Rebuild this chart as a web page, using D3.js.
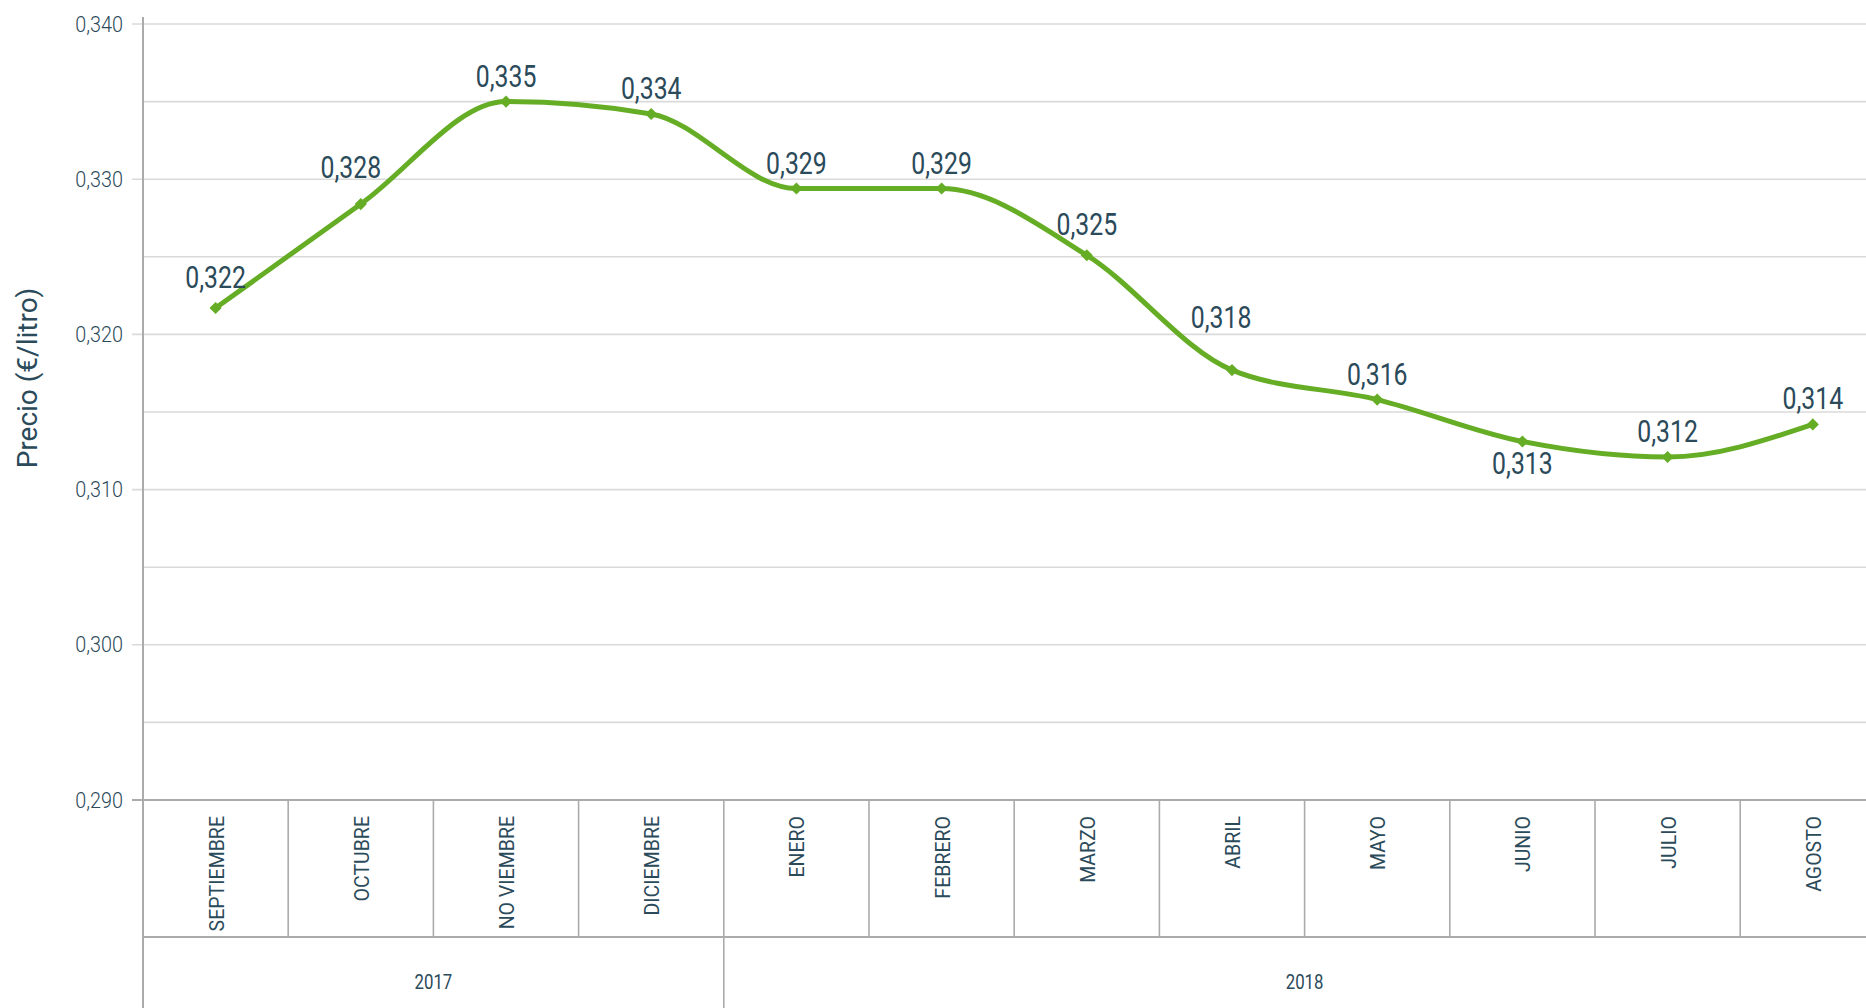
<!DOCTYPE html>
<html>
<head>
<meta charset="utf-8">
<script src="https://cdn.jsdelivr.net/npm/d3@7"></script>
<style>
  html, body { margin: 0; padding: 0; background: #fff; overflow: hidden; }
  svg { display: block; }
  text { font-family: Roboto, "Open Sans", sans-serif; }
</style>
</head>
<body>
<svg id="chart" width="1866" height="1008"></svg>
<script>
// ---- data ----
const months = ["SEPTIEMBRE","OCTUBRE","NO VIEMBRE","DICIEMBRE","ENERO","FEBRERO","MARZO","ABRIL","MAYO","JUNIO","JULIO","AGOSTO"];
const monthYear = ["2017","2017","2017","2017","2018","2018","2018","2018","2018","2018","2018","2018"];
const years = ["2017","2018"];
const prices = [0.3217, 0.3284, 0.3350, 0.3342, 0.3294, 0.3294, 0.3251, 0.3177, 0.3158, 0.3131, 0.3121, 0.3142];
const labelSide = ["above-high","above-left","above","above","above","above","above-high","high-left","above","below","above","above"];
const yTicks = [0.290, 0.300, 0.310, 0.320, 0.330, 0.340];
const yGrid = [0.295, 0.300, 0.305, 0.310, 0.315, 0.320, 0.325, 0.330, 0.335, 0.340];
const yTitle = "Precio (€/litro)";

// ---- layout ----
const W = 1866, H = 1008;
const left = 143, bandW = 145.2;
const yTop = 24, yBottom = 800, catBottom = 937;
const textColor = "#2b4a5a";
const green = "#66ad26";
const gridColor = "#dadada";
const axisColor = "#ababab";
const narrow = 0.8; // horizontal compression to mimic a condensed face
const labelOffsets = {
  "above":      {dx: 0,   dy: -15},
  "above-high": {dx: 0,   dy: -20},
  "above-left": {dx: -10, dy: -26},
  "high-left":  {dx: -11, dy: -42},
  "below":      {dx: 0,   dy: 33}
};

const svg = d3.select("#chart");
const locale = d3.formatLocale({decimal: ",", thousands: ".", grouping: [3], currency: ["€",""]});
const fmt = locale.format(".3f");

const x = d3.scaleBand().domain(months).range([left, left + bandW * months.length]).padding(0);
const y = d3.scaleLinear().domain([0.290, 0.340]).range([yBottom, yTop]);
const cx = i => x(months[i]) + x.bandwidth() / 2;

// grid lines
svg.append("g").selectAll("line").data(yGrid).join("line")
  .attr("x1", d => yTicks.some(t => Math.abs(t - d) < 1e-9) ? left - 11 : left)
  .attr("x2", W)
  .attr("y1", d => y(d)).attr("y2", d => y(d))
  .attr("stroke", gridColor).attr("stroke-width", 1.6);

// y axis labels via d3 axis
const yAxis = d3.axisLeft(y).tickValues(yTicks).tickFormat(fmt).tickSize(0).tickPadding(20);
const gy = svg.append("g").attr("transform", `translate(${left},0)`).call(yAxis);
gy.select(".domain").remove();
const tickScale = 0.9;
gy.selectAll("text")
  .attr("font-family", "Roboto, sans-serif")
  .attr("font-size", 22).attr("font-weight", 300)
  .attr("fill", textColor)
  .attr("x", -20 / tickScale)
  .attr("transform", `scale(${tickScale},1)`);

// bottom line at 0.290 (category row top)
svg.append("line").attr("x1", left - 11).attr("x2", W).attr("y1", yBottom).attr("y2", yBottom)
  .attr("stroke", axisColor).attr("stroke-width", 2);
// category row bottom
svg.append("line").attr("x1", left).attr("x2", W).attr("y1", catBottom).attr("y2", catBottom)
  .attr("stroke", axisColor).attr("stroke-width", 2);

// category separators
const boundaries = months.map(m => x(m) + x.bandwidth());
svg.append("g").selectAll("line").data(boundaries).join("line")
  .attr("x1", d => d).attr("x2", d => d).attr("y1", yBottom).attr("y2", catBottom)
  .attr("stroke", axisColor).attr("stroke-width", 1.6);

// year separators
const yearSpans = years.map(yr => {
  const ms = months.filter((m, i) => monthYear[i] === yr);
  return {year: yr, x0: x(ms[0]), x1: x(ms[ms.length-1]) + x.bandwidth()};
});
svg.append("g").selectAll("line").data(yearSpans.slice(1)).join("line")
  .attr("x1", d => d.x0).attr("x2", d => d.x0).attr("y1", catBottom).attr("y2", H)
  .attr("stroke", axisColor).attr("stroke-width", 1.6);

// vertical axis line
svg.append("line").attr("x1", left).attr("x2", left).attr("y1", 17).attr("y2", H)
  .attr("stroke", axisColor).attr("stroke-width", 2);

// category labels (rotated, reading upward)
svg.append("g").selectAll("text").data(months).join("text")
  .attr("transform", (d, i) => `translate(${cx(i) + 8},816) rotate(-90) scale(0.93,1)`)
  .attr("text-anchor", "end")
  .attr("font-size", 21)
  .attr("fill", textColor)
  .text(d => d);

// year labels
svg.append("g").selectAll("text").data(yearSpans).join("text")
  .attr("transform", d => `translate(${(d.x0 + d.x1) / 2},989) scale(${narrow},1)`)
  .attr("text-anchor", "middle")
  .attr("font-size", 21)
  .attr("fill", textColor)
  .text(d => d.year);

// y title
svg.append("text")
  .attr("transform", "translate(37,378) rotate(-90)")
  .attr("text-anchor", "middle")
  .attr("font-size", 28)
  .attr("fill", textColor)
  .text(yTitle);

// line
const line = d3.line()
  .x((d, i) => cx(i))
  .y(d => y(d))
  .curve(d3.curveMonotoneX);
svg.append("path").datum(prices)
  .attr("d", line).attr("fill", "none")
  .attr("stroke", green).attr("stroke-width", 5).attr("stroke-linejoin", "round");

// markers
svg.append("g").selectAll("path").data(prices).join("path")
  .attr("d", d3.symbol(d3.symbolDiamond2, 95)())
  .attr("transform", (d, i) => `translate(${cx(i)},${y(d)})`)
  .attr("fill", green);

// data labels
svg.append("g").selectAll("text").data(prices).join("text")
  .attr("transform", (d, i) => {
    const o = labelOffsets[labelSide[i]];
    return `translate(${cx(i) + o.dx},${y(d) + o.dy}) scale(${narrow},1)`;
  })
  .attr("text-anchor", "middle")
  .attr("font-size", 31)
  .attr("fill", textColor)
  .text(d => fmt(d));
</script>
</body>
</html>
